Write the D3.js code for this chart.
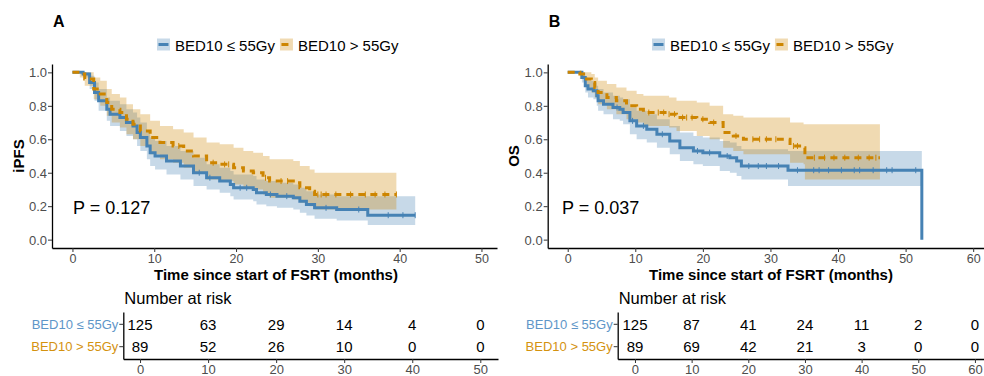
<!DOCTYPE html>
<html><head><meta charset="utf-8">
<script src="https://cdn.jsdelivr.net/npm/d3@7"></script>
<style>body{margin:0;background:#fff}svg{display:block;font-family:"Liberation Sans",Arial,sans-serif}</style>
</head><body><svg id="c" width="984" height="376"></svg>
<script>
// ---------- DATA ----------
const groups = ["BED10 \u2264 55Gy", "BED10 > 55Gy"];
const panelLetters = ["A", "B"];
const yTitles = ["iPFS", "OS"];
const pValues = ["P = 0.127", "P = 0.037"];
const xTitle = "Time since start of FSRT (months)";
const survTicks = [0, 0.2, 0.4, 0.6, 0.8, 1.0];
const timeTicksA = [0, 10, 20, 30, 40, 50];
const timeTicksB = [0, 10, 20, 30, 40, 50, 60];

// Panel A, BED10 <= 55Gy
const aLowTime  = [0,1.3,2.1,2.7,3.2,4.2,4.6,5.8,6.6,7.4,7.9,8.3,9.1,9.5,10.1,11.5,13.2,14.8,16.4,18.0,19.3,19.7,22.1,22.5,23.7,25.0,27.0,27.8,28.6,29.6,32.3,36.1,41.9];
const aLowSurv  = [1,0.99,0.94,0.88,0.83,0.78,0.75,0.73,0.70,0.68,0.64,0.61,0.56,0.52,0.50,0.47,0.44,0.40,0.37,0.35,0.33,0.31,0.30,0.28,0.27,0.26,0.25,0.23,0.21,0.19,0.18,0.146,0.146];
const aLowLower = [1,0.97,0.90,0.83,0.77,0.71,0.68,0.65,0.62,0.60,0.56,0.53,0.48,0.44,0.42,0.39,0.36,0.32,0.30,0.28,0.26,0.24,0.23,0.21,0.20,0.19,0.18,0.16,0.145,0.125,0.115,0.087,0.087];
const aLowUpper = [1,1,0.98,0.94,0.90,0.85,0.83,0.81,0.78,0.76,0.73,0.70,0.65,0.61,0.59,0.56,0.53,0.49,0.45,0.43,0.41,0.39,0.38,0.36,0.35,0.34,0.33,0.31,0.29,0.27,0.26,0.26,0.26];
const aLowCensor = [15.5,16.8,20.5,21.3,24.2,26.2,31.0,35.0,38.6,40.4,41.9];
// Panel A, BED10 > 55Gy
const aHighTime  = [0,0.9,1.5,2.6,3.4,4.2,4.8,5.8,6.6,7.4,8.3,9.5,10.7,12.3,13.6,14.8,16.4,18.0,19.7,20.9,22.1,23.3,24.1,27.0,27.8,29.0,29.6,39.6];
const aHighSurv  = [1,0.99,0.96,0.90,0.87,0.82,0.78,0.76,0.72,0.69,0.65,0.61,0.58,0.56,0.53,0.50,0.46,0.45,0.43,0.41,0.40,0.37,0.35,0.34,0.31,0.29,0.27,0.27];
const aHighLower = [1,0.97,0.92,0.84,0.80,0.74,0.70,0.67,0.63,0.60,0.56,0.51,0.48,0.46,0.43,0.40,0.36,0.35,0.33,0.31,0.30,0.27,0.25,0.24,0.22,0.20,0.18,0.18];
const aHighUpper = [1,1,1,0.97,0.95,0.90,0.87,0.85,0.81,0.78,0.75,0.71,0.68,0.66,0.64,0.61,0.58,0.57,0.55,0.53,0.52,0.50,0.48,0.47,0.44,0.42,0.40,0.40];
const aHighCensor = [13.0,17.2,18.6,19.1,23.6,25.5,26.3,30.0,30.4,31.0,32.2,34.0,35.8,37.0,38.2,39.6];

// Panel B, BED10 <= 55Gy
const bLowTime  = [0,2.1,2.6,3.0,3.8,4.3,4.5,5.3,6.7,7.7,8.2,9.2,10.2,11.7,13.2,15.1,16.6,18.6,20.0,22.5,24.0,25.0,25.7,32.6,52.4];
const bLowSurv  = [1,0.97,0.92,0.90,0.89,0.86,0.83,0.81,0.79,0.78,0.76,0.71,0.68,0.66,0.63,0.59,0.55,0.53,0.52,0.50,0.49,0.47,0.44,0.415,0];
const bLowLower = [1,0.94,0.88,0.85,0.84,0.80,0.77,0.75,0.72,0.71,0.69,0.63,0.60,0.58,0.55,0.51,0.47,0.45,0.44,0.41,0.40,0.38,0.36,0.32,0.32];
const bLowUpper = [1,1,0.97,0.95,0.94,0.92,0.90,0.88,0.86,0.85,0.84,0.79,0.77,0.75,0.72,0.68,0.64,0.62,0.61,0.59,0.58,0.56,0.54,0.53,0.53];
const bLowCensor = [7.3,9.6,11.2,14.0,19.2,21.0,23.6,26.8,28.2,29.4,31.2,34.0,36.4,37.2,38.6,40.5,42.4,43.2,45.2,47.2,48.0,51.5];
// Panel B, BED10 > 55Gy
const bHighTime  = [0,1.8,2.8,3.5,4.0,4.5,5.8,7.2,8.7,10.2,11.2,15.0,16.1,19.1,21.0,23.0,24.5,26.0,32.9,34.9,35.1,46.2];
const bHighSurv  = [1,0.99,0.96,0.94,0.91,0.88,0.85,0.83,0.80,0.78,0.76,0.75,0.73,0.72,0.70,0.64,0.62,0.60,0.56,0.55,0.49,0.49];
const bHighLower = [1,0.96,0.91,0.88,0.85,0.81,0.78,0.75,0.72,0.70,0.68,0.67,0.65,0.62,0.60,0.55,0.53,0.51,0.46,0.45,0.36,0.36];
const bHighUpper = [1,1,1,0.99,0.97,0.95,0.93,0.91,0.89,0.87,0.86,0.85,0.83,0.82,0.80,0.75,0.74,0.73,0.70,0.69,0.69,0.69];
const bHighCensor = [12.0,13.4,14.2,15.0,15.8,17.0,17.6,18.4,20.0,21.6,24.9,27.4,28.4,29.4,30.8,33.4,34.0,36.5,38.0,39.4,41.0,43.0,44.6,45.6];

// Number at risk
const riskTimesA = [0, 10, 20, 30, 40, 50];
const riskA_low  = [125, 63, 29, 14, 4, 0];
const riskA_high = [89, 52, 26, 10, 0, 0];
const riskTimesB = [0, 10, 20, 30, 40, 50, 60];
const riskB_low  = [125, 87, 41, 24, 11, 2, 0];
const riskB_high = [89, 69, 42, 21, 3, 0, 0];

// ---------- STYLE ----------
const colors = ["#4682B4", "#CD8500"];
const FONT = '"Liberation Sans", Arial, sans-serif';
const svg = d3.select("#c");

function zip(t, s, lo, up) { return t.map((d, i) => ({t: d, s: s[i], lo: lo[i], up: up[i]})); }
function stepVal(t, s, x) { let v = s[0]; for (let i = 0; i < t.length; i++) { if (t[i] <= x && s[i] > 0) v = s[i]; } return v; }

const panels = [
  { letter: panelLetters[0], ytitle: yTitles[0], p: pValues[0], ticks: timeTicksA,
    left: 52, right: 497, xdom: [-2.5, 51.9], pX: 73, titleX: 276, legendX: 157,
    series: [ {t: aLowTime, s: aLowSurv, lo: aLowLower, up: aLowUpper, c: aLowCensor},
              {t: aHighTime, s: aHighSurv, lo: aHighLower, up: aHighUpper, c: aHighCensor} ],
    risk: {times: riskTimesA, rows: [riskA_low, riskA_high], left: 123.3, right: 498, dom: [-2.46, 52.6]} },
  { letter: panelLetters[1], ytitle: yTitles[1], p: pValues[1], ticks: timeTicksB,
    left: 547.7, right: 984, xdom: [-2.96, 61.6], pX: 562, titleX: 771, legendX: 652,
    series: [ {t: bLowTime, s: bLowSurv, lo: bLowLower, up: bLowUpper, c: bLowCensor},
              {t: bHighTime, s: bHighSurv, lo: bHighLower, up: bHighUpper, c: bHighCensor} ],
    risk: {times: riskTimesB, rows: [riskB_low, riskB_high], left: 617.7, right: 984, dom: [-3.05, 61.6]} }
];

const yTop = 64, yBot = 248;

panels.forEach(P => {
  const g = svg.append("g");
  const x = d3.scaleLinear().domain(P.xdom).range([P.left, P.right]);
  const y = d3.scaleLinear().domain([-0.05, 1.05]).range([yBot, yTop]);

  // bands
  P.series.forEach((S, i) => {
    const data = zip(S.t, S.s, S.lo, S.up);
    g.append("path").datum(data)
      .attr("d", d3.area().curve(d3.curveStepAfter).x(d => x(d.t)).y0(d => y(d.lo)).y1(d => y(d.up)))
      .attr("fill", colors[i]).attr("fill-opacity", 0.3).attr("stroke", "none");
  });
  // lines
  P.series.forEach((S, i) => {
    const data = zip(S.t, S.s, S.lo, S.up);
    g.append("path").datum(data)
      .attr("d", d3.line().curve(d3.curveStepAfter).x(d => x(d.t)).y(d => y(d.s)))
      .attr("fill", "none").attr("stroke", colors[i]).attr("stroke-width", 3)
      .attr("stroke-dasharray", i === 1 ? "7,5" : null);
  });
  // censor marks
  P.series.forEach((S, i) => {
    g.selectAll(null).data(S.c).enter().append("line")
      .attr("x1", d => x(d)).attr("x2", d => x(d))
      .attr("y1", d => y(stepVal(S.t, S.s, d)) - 3).attr("y2", d => y(stepVal(S.t, S.s, d)) + 3)
      .attr("stroke", colors[i]).attr("stroke-width", 1);
  });

  // axes
  const ax = g.append("g").attr("transform", `translate(0,${yBot})`)
    .call(d3.axisBottom(x).tickValues(P.ticks).tickSize(4).tickSizeOuter(0).tickFormat(d3.format("d")));
  const ay = g.append("g").attr("transform", `translate(${P.left},0)`)
    .call(d3.axisLeft(y).tickValues(survTicks).tickSize(4).tickSizeOuter(0).tickFormat(d3.format(".1f")));
  [ax, ay].forEach(a => {
    a.select(".domain").attr("stroke", "#000").attr("stroke-width", 1.3);
    a.selectAll(".tick line").attr("stroke", "#333").attr("stroke-width", 1);
    a.selectAll(".tick text").attr("fill", "#4D4D4D").style("font-size", "13px").style("font-family", FONT);
  });
  ax.selectAll(".tick text").style("font-size", "12.5px").attr("dy", null).attr("y", 11).attr("dominant-baseline", "central");
  ay.selectAll(".tick text").attr("x", -5).attr("dy", "0.35em");

  // titles
  g.append("text").attr("x", P.titleX).attr("y", 274.5).attr("text-anchor", "middle").attr("dominant-baseline", "central")
    .style("font-size", "15px").style("font-weight", "bold").text(xTitle);
  g.append("text").attr("transform", `translate(${P.left - 34},156) rotate(-90)`).attr("text-anchor", "middle")
    .attr("dominant-baseline", "central").style("font-size", "15px").style("font-weight", "bold").text(P.ytitle);
  g.append("text").attr("x", P.left + 1).attr("y", 21).attr("dominant-baseline", "central")
    .style("font-size", "16px").style("font-weight", "bold").text(P.letter);
  g.append("text").attr("x", P.pX).attr("y", 208).attr("dominant-baseline", "central")
    .style("font-size", "18px").text(P.p);

  // legend
  let lx = P.legendX;
  groups.forEach((name, i) => {
    const kg = g.append("g").attr("transform", `translate(${lx},38.5)`);
    kg.append("rect").attr("width", 13).attr("height", 12).attr("fill", colors[i]).attr("fill-opacity", 0.3);
    kg.append("line").attr("x1", 1.5).attr("x2", 11.5).attr("y1", 6).attr("y2", 6)
      .attr("stroke", colors[i]).attr("stroke-width", 3).attr("stroke-dasharray", i === 1 ? "7,5" : null);
    const t = g.append("text").attr("x", lx + 18).attr("y", 45).attr("dominant-baseline", "central")
      .style("font-size", "15px").text(name);
    lx += 18 + t.node().getComputedTextLength() + 5;
  });

  // risk table
  const R = P.risk;
  const rx = d3.scaleLinear().domain(R.dom).range([R.left, R.right]);
  const ry = d3.scaleBand().domain(groups).range([312, 359]).paddingOuter(0.05);
  g.append("text").attr("x", R.left + 1).attr("y", 298).attr("dominant-baseline", "central")
    .style("font-size", "16.5px").text("Number at risk");
  R.rows.forEach((row, i) => {
    g.selectAll(null).data(row).enter().append("text")
      .attr("x", (d, j) => rx(R.times[j])).attr("y", ry(groups[i]) + ry.bandwidth() / 2)
      .attr("text-anchor", "middle").attr("dominant-baseline", "central")
      .style("font-size", "15px").text(d => d);
  });
  const tx = g.append("g").attr("transform", "translate(0,359)")
    .call(d3.axisBottom(rx).tickValues(R.times).tickSize(4).tickSizeOuter(0).tickFormat(d3.format("d")));
  const ty = g.append("g").attr("transform", `translate(${R.left},0)`)
    .call(d3.axisLeft(ry).tickSize(4).tickSizeOuter(0));
  [tx, ty].forEach(a => {
    a.select(".domain").attr("stroke", "#000").attr("stroke-width", 1.3);
    a.selectAll(".tick line").attr("stroke", "#333");
    a.selectAll(".tick text").style("font-size", "13px").style("font-family", FONT);
  });
  tx.selectAll(".tick text").attr("fill", "#4D4D4D").attr("dy", null).attr("y", 10).attr("dominant-baseline", "central");
  ty.selectAll(".tick text").attr("x", -5).attr("fill", (d, i) => i === 0 ? "#5E96C8" : "#D4920F").attr("dy", "0.35em");
});
</script></body></html>
